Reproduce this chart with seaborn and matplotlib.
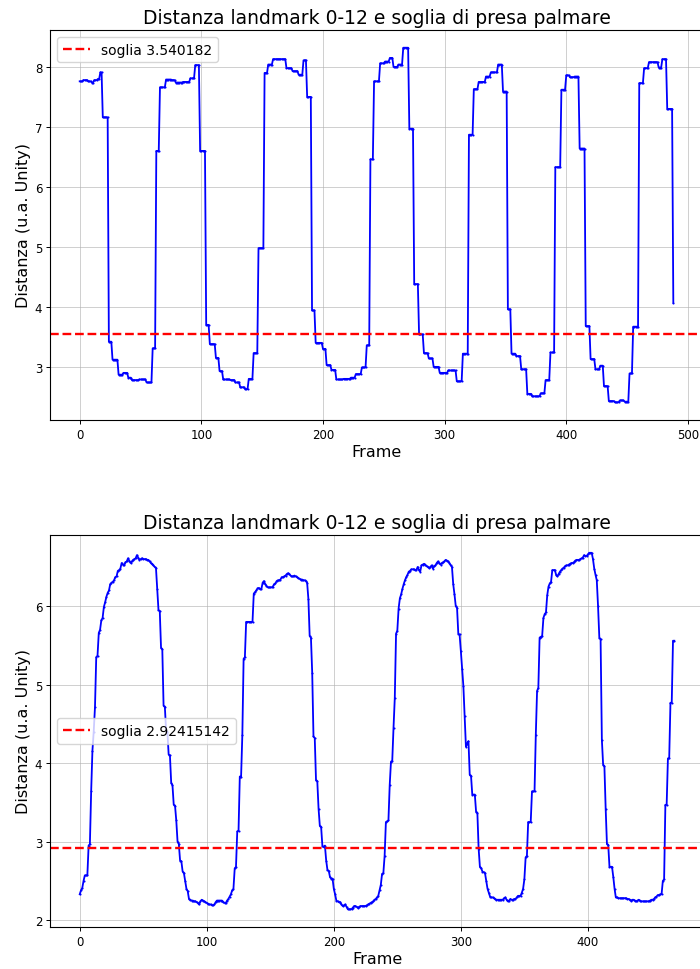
import numpy as np
import pandas as pd
import matplotlib
matplotlib.use("Agg")
import matplotlib.pyplot as plt
import seaborn as sns

# ---------------- data ----------------
chart_title = "Distanza landmark 0-12 e soglia di presa palmare"
x_label = "Frame"
y_label = "Distanza (u.a. Unity)"

# top chart: piecewise-constant distance (level, number of frames)
top_levels = [
    7.76, 7.78, 7.76, 7.74, 7.78, 7.80, 7.91, 7.16, 3.42, 3.12,
    2.87, 2.90, 2.82, 2.78, 2.79, 2.74, 3.31, 6.60, 7.66, 7.79,
    7.78, 7.74, 7.75, 7.81, 8.03, 6.60, 3.70, 3.38, 3.15, 2.93,
    2.79, 2.78, 2.74, 2.66, 2.63, 2.80, 3.23, 4.98, 7.90, 8.04,
    8.13, 7.98, 7.93, 7.87, 8.11, 7.50, 3.94, 3.40, 3.30, 3.03,
    2.95, 2.79, 2.80, 2.82, 2.88, 2.99, 3.36, 6.46, 7.76, 8.06,
    8.09, 8.15, 8.00, 8.04, 8.32, 6.97, 4.38, 3.54, 3.23, 3.14,
    3.00, 2.90, 2.94, 2.76, 3.22, 6.87, 7.63, 7.75, 7.84, 7.91,
    8.04, 7.59, 3.96, 3.22, 3.18, 2.96, 2.55, 2.51, 2.56, 2.78,
    3.24, 6.33, 7.62, 7.86, 7.83, 7.84, 6.64, 3.68, 3.13, 2.96,
    3.02, 2.68, 2.43, 2.41, 2.44, 2.42, 2.89, 3.67, 7.73, 7.98,
    8.08, 7.99, 8.13, 7.30, 4.07,
]
top_counts = [
    3, 4, 3, 2, 3, 2, 2, 5, 3, 5,
    4, 4, 3, 6, 6, 5, 3, 3, 5, 5,
    3, 6, 6, 4, 4, 5, 3, 5, 3, 3,
    6, 4, 4, 4, 3, 4, 4, 5, 3, 4,
    11, 5, 5, 4, 3, 4, 3, 6, 3, 4,
    4, 6, 6, 4, 5, 4, 3, 3, 5, 4,
    4, 3, 4, 4, 5, 4, 4, 4, 4, 4,
    5, 7, 7, 5, 5, 4, 4, 6, 4, 6,
    4, 4, 3, 4, 4, 5, 4, 7, 4, 4,
    4, 5, 4, 3, 4, 4, 5, 4, 4, 4,
    3, 4, 5, 4, 4, 4, 3, 5, 4, 4,
    8, 3, 4, 5, 1,
]
top_threshold = 3.540182

# bottom chart: one distance value per frame
bottom_values = [
    2.33, 2.38, 2.41, 2.50, 2.57, 2.57, 2.57, 2.95, 2.97, 3.64,
    4.16, 4.40, 4.71, 5.35, 5.37, 5.66, 5.70, 5.82, 5.85, 5.99,
    6.05, 6.12, 6.17, 6.20, 6.28, 6.30, 6.31, 6.33, 6.37, 6.38,
    6.45, 6.46, 6.48, 6.55, 6.53, 6.52, 6.56, 6.57, 6.61, 6.58,
    6.55, 6.57, 6.59, 6.60, 6.61, 6.65, 6.62, 6.59, 6.60, 6.61,
    6.60, 6.60, 6.60, 6.59, 6.59, 6.57, 6.55, 6.54, 6.52, 6.50,
    6.49, 6.22, 5.95, 5.94, 5.47, 5.45, 4.73, 4.72, 4.41, 4.40,
    4.11, 4.10, 3.75, 3.72, 3.47, 3.46, 3.27, 3.00, 2.97, 2.76,
    2.75, 2.62, 2.60, 2.50, 2.40, 2.37, 2.27, 2.26, 2.25, 2.25,
    2.24, 2.24, 2.23, 2.22, 2.20, 2.24, 2.26, 2.25, 2.24, 2.23,
    2.22, 2.21, 2.20, 2.20, 2.19, 2.19, 2.20, 2.23, 2.25, 2.25,
    2.25, 2.25, 2.25, 2.23, 2.22, 2.22, 2.25, 2.27, 2.30, 2.33,
    2.38, 2.40, 2.66, 2.68, 3.13, 3.14, 3.83, 3.82, 4.36, 5.33,
    5.35, 5.80, 5.80, 5.80, 5.80, 5.80, 5.80, 6.16, 6.18, 6.20,
    6.23, 6.23, 6.22, 6.22, 6.30, 6.32, 6.28, 6.26, 6.24, 6.24,
    6.24, 6.24, 6.25, 6.28, 6.29, 6.32, 6.33, 6.33, 6.34, 6.37,
    6.37, 6.38, 6.39, 6.41, 6.42, 6.41, 6.39, 6.38, 6.38, 6.39,
    6.38, 6.37, 6.36, 6.35, 6.34, 6.34, 6.33, 6.33, 6.32, 6.30,
    6.09, 5.62, 5.60, 5.15, 4.34, 4.32, 3.78, 3.77, 3.42, 3.20,
    3.19, 2.95, 2.93, 2.95, 2.76, 2.64, 2.63, 2.55, 2.53, 2.53,
    2.40, 2.33, 2.25, 2.24, 2.23, 2.23, 2.20, 2.18, 2.19, 2.20,
    2.17, 2.14, 2.14, 2.14, 2.14, 2.16, 2.18, 2.18, 2.17, 2.16,
    2.17, 2.18, 2.18, 2.18, 2.18, 2.18, 2.19, 2.20, 2.21, 2.22,
    2.23, 2.24, 2.26, 2.27, 2.29, 2.31, 2.38, 2.45, 2.59, 2.60,
    2.82, 3.25, 3.26, 3.27, 3.72, 4.02, 4.03, 4.45, 4.83, 5.65,
    5.69, 5.97, 6.10, 6.15, 6.22, 6.28, 6.33, 6.37, 6.40, 6.44,
    6.45, 6.47, 6.47, 6.47, 6.46, 6.46, 6.50, 6.46, 6.44, 6.52,
    6.53, 6.54, 6.53, 6.51, 6.50, 6.49, 6.50, 6.52, 6.48, 6.51,
    6.52, 6.55, 6.57, 6.55, 6.53, 6.55, 6.56, 6.57, 6.59, 6.58,
    6.57, 6.55, 6.52, 6.50, 6.28, 6.15, 6.00, 5.98, 5.65, 5.64,
    5.43, 5.20, 4.98, 4.60, 4.21, 4.25, 4.28, 3.85, 3.84, 3.60,
    3.60, 3.60, 3.38, 3.37, 2.91, 2.68, 2.66, 2.62, 2.61, 2.60,
    2.50, 2.40, 2.35, 2.30, 2.29, 2.29, 2.28, 2.27, 2.26, 2.26,
    2.26, 2.26, 2.26, 2.26, 2.28, 2.29, 2.26, 2.24, 2.25, 2.27,
    2.26, 2.26, 2.27, 2.27, 2.29, 2.31, 2.31, 2.31, 2.35, 2.40,
    2.52, 2.80, 2.82, 3.25, 3.25, 3.25, 3.64, 3.64, 3.64, 4.36,
    4.92, 4.96, 5.60, 5.61, 5.62, 5.85, 5.90, 5.92, 6.14, 6.25,
    6.29, 6.31, 6.46, 6.46, 6.46, 6.40, 6.38, 6.41, 6.44, 6.46,
    6.48, 6.49, 6.51, 6.52, 6.52, 6.53, 6.54, 6.55, 6.55, 6.56,
    6.58, 6.59, 6.59, 6.59, 6.60, 6.61, 6.62, 6.65, 6.64, 6.64,
    6.66, 6.68, 6.68, 6.68, 6.60, 6.48, 6.40, 6.33, 6.00, 5.60,
    5.58, 4.30, 3.98, 3.96, 3.42, 2.97, 2.96, 2.68, 2.68, 2.68,
    2.55, 2.40, 2.29, 2.29, 2.28, 2.28, 2.28, 2.28, 2.28, 2.28,
    2.28, 2.27, 2.27, 2.26, 2.25, 2.26, 2.26, 2.25, 2.24, 2.25,
    2.26, 2.25, 2.24, 2.24, 2.24, 2.24, 2.24, 2.24, 2.24, 2.25,
    2.26, 2.26, 2.27, 2.29, 2.30, 2.32, 2.32, 2.33, 2.33, 2.50,
    2.52, 3.47, 3.47, 4.06, 4.06, 4.77, 4.77, 5.56, 5.56,
]
bottom_threshold = 2.92415142

# ---------------- tables ----------------
top_dist = np.repeat(top_levels, top_counts)
df_top = pd.DataFrame({"frame": np.arange(len(top_dist)), "dist": top_dist})
df_bot = pd.DataFrame({"frame": np.arange(len(bottom_values)), "dist": bottom_values})

# ---------------- figure ----------------
plt.rcParams["font.family"] = ["DejaVu Sans"]
fig = plt.figure(figsize=(7, 9.7), dpi=100)
W, H = 700.0, 970.0
ax1 = fig.add_axes([50 / W, 1 - 421 / H, 653 / W, 390 / H])
ax2 = fig.add_axes([50 / W, 1 - 928 / H, 654 / W, 392 / H])

for ax, df, thr, loc in [
    (ax1, df_top, top_threshold, "upper left"),
    (ax2, df_bot, bottom_threshold, "center left"),
]:
    sns.lineplot(data=df, x="frame", y="dist", ax=ax, color="blue",
                 linewidth=1.3, marker=".", markersize=3,
                 markeredgewidth=0, estimator=None, sort=False)
    hl = ax.axhline(thr, color="red", linestyle="--", linewidth=1.7,
                    dashes=(3.7, 1.6), label=f"soglia {thr}")
    ax.grid(True, color="#b0b0b0", alpha=0.6, linewidth=0.7)
    ax.set_axisbelow(True)
    ax.set_title(chart_title, fontsize=13.5, pad=5)
    ax.set_xlabel(x_label, fontsize=11.5, labelpad=2.5)
    ax.set_ylabel(y_label, fontsize=11.5, labelpad=2.5)
    ax.tick_params(labelsize=8.5, length=3, width=0.7, pad=2.5)
    for s in ax.spines.values():
        s.set_linewidth(0.8)
    ax.legend(handles=[hl], loc=loc, fontsize=10)

fig.savefig("out.png", dpi=100)
